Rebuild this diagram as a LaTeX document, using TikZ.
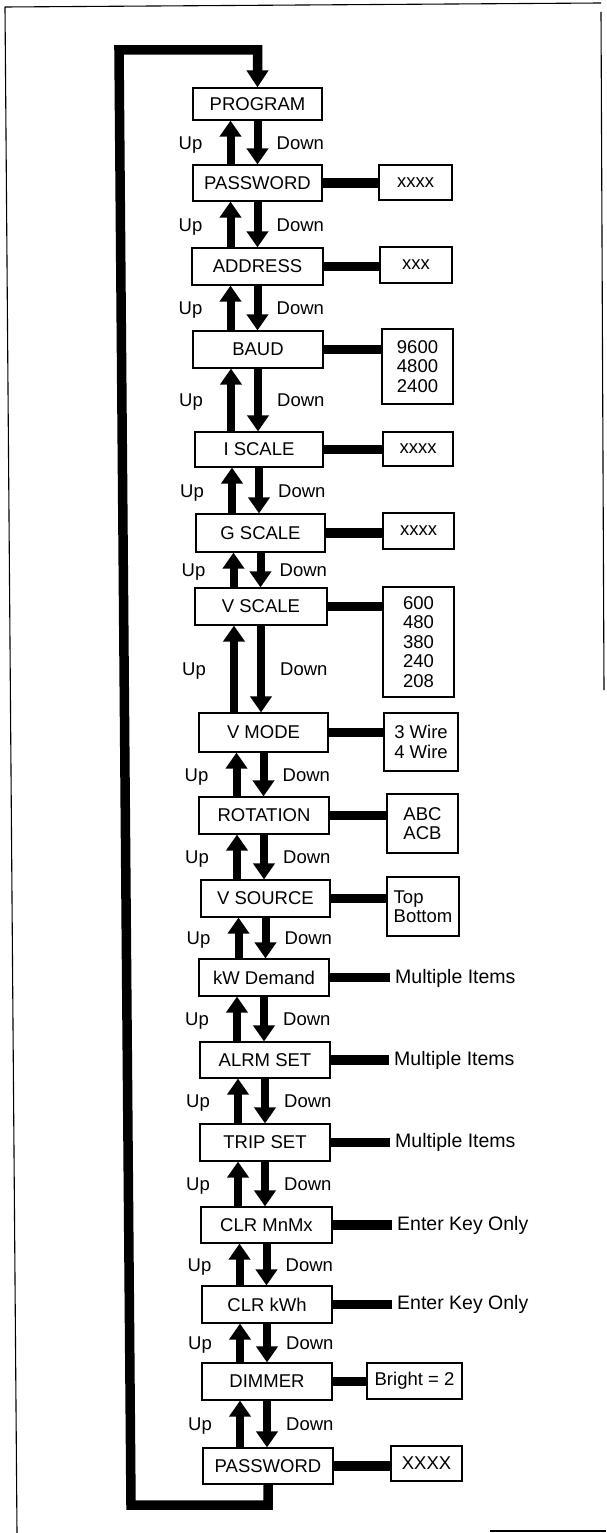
\documentclass[tikz,border=0pt]{standalone}
\usepackage{fontspec}
\setmainfont{Liberation Sans}
\usetikzlibrary{arrows.meta,calc}
\newcommand\updn[2]{%
  \draw[arr] ([xshift=-27pt]#1.south |- #2.north) -- ([xshift=-27pt]#1.south);
  \draw[arr] (#1.south) -- (#1.south |- #2.north);
  \node[lbl, anchor=base east, xshift=-55pt, yshift=-6.6pt] (#1up) at ($(#1.south)!0.5!(#1.south |- #2.north)$) {Up};
  \node[lbl, anchor=base west, xshift=19pt, yshift=-6.6pt] (#1dn) at ($(#1.south)!0.5!(#1.south |- #2.north)$) {Down};
}
\begin{document}
\begin{tikzpicture}[x=1pt,y=-1pt,
  txt/.style={font=\fontsize{18.5}{19.5}\selectfont},
  box/.style={txt, draw, line width=1.2pt, inner sep=0pt, align=center},
  opt/.style={box},
  lbl/.style={txt, inner sep=0pt},
  side/.style={font=\fontsize{19.5}{20}\selectfont, inner sep=5pt, anchor=west},
  arr/.style={line width=8pt, -{Triangle[width=21pt,length=16pt]}},
  conn/.style={line width=9.5pt},
  loopline/.style={line width=9.5pt, line join=miter, -{Triangle[width=21pt,length=17pt]}},
  frame/.style={line width=1.1pt}
]
\useasboundingbox (0,0) rectangle (606,1533);
% scan frame
\draw[frame] (5,7) -- (601,3);
\draw[frame] (5,7) -- (17,1533);
\draw[frame] (601,12) -- (604,690);
\draw[frame] (490,1531) -- (606,1531);

% main boxes
\node[box, minimum width=129pt, minimum height=32pt] (prog) at (257.5,104) {PROGRAM};
\node[box, minimum width=129pt, minimum height=36pt] (pwa) at (257.5,183) {PASSWORD};
\node[box, minimum width=131pt, minimum height=37pt] (addr) at (257.5,266.5) {ADDRESS};
\node[box, minimum width=130pt, minimum height=37pt] (baud) at (258,349.5) {BAUD};
\node[box, minimum width=128pt, minimum height=35pt] (isc) at (259,449.5) {I SCALE};
\node[box, minimum width=129pt, minimum height=38pt] (gsc) at (260.5,533) {G SCALE};
\node[box, minimum width=132pt, minimum height=37pt] (vsc) at (261,606.5) {V SCALE};
\node[box, minimum width=129pt, minimum height=39pt] (vmode) at (263.5,732.5) {V MODE};
\node[box, minimum width=130pt, minimum height=37pt] (rot) at (264,815.5) {ROTATION};
\node[box, minimum width=129pt, minimum height=37pt] (vsrc) at (265.5,898.5) {V SOURCE};
\node[box, minimum width=130pt, minimum height=37pt] (kwd) at (264,977.5) {kW Demand};
\node[box, minimum width=130pt, minimum height=36pt] (alrm) at (265,1060) {ALRM SET};
\node[box, minimum width=130pt, minimum height=37pt] (trip) at (265,1142.5) {TRIP SET};
\node[box, minimum width=131pt, minimum height=36pt] (clrm) at (266.5,1225) {CLR MnMx};
\node[box, minimum width=130pt, minimum height=37pt] (clrk) at (267,1304.5) {CLR kWh};
\node[box, minimum width=130pt, minimum height=37pt] (dim) at (267,1381.5) {DIMMER};
\node[box, minimum width=130pt, minimum height=36pt] (pwb) at (268,1466) {PASSWORD};

% option boxes
\node[opt, minimum width=73pt, minimum height=35pt] (pwao) at (415.5,182.5) {xxxx};
\node[opt, minimum width=72pt, minimum height=36pt] (addro) at (416,265) {xxx};
\node[opt, minimum width=71pt, minimum height=75pt] (baudo) at (417.5,366.5) {9600\\4800\\2400};
\node[opt, minimum width=70pt, minimum height=34pt] (isco) at (418,449) {xxxx};
\node[opt, minimum width=71pt, minimum height=36pt] (gsco) at (418.5,531) {xxxx};
\node[opt, minimum width=71pt, minimum height=110pt] (vsco) at (418.5,642) {600\\480\\380\\240\\208};
\node[opt, minimum width=74pt, minimum height=58pt] (vmodeo) at (421,742) {3 Wire\\4 Wire};
\node[opt, minimum width=71pt, minimum height=59pt] (roto) at (422.5,823.5) {ABC\\ACB};
\node[opt, minimum width=72pt, minimum height=59pt, align=left] (vsrco) at (423,906.5) {Top\\Bottom};
\node[opt, minimum width=95pt, minimum height=36pt] (dimo) at (414.5,1381) {Bright = 2};
\node[opt, minimum width=71pt, minimum height=35pt] (pwbo) at (426.5,1463.5) {XXXX};

% side texts
\node[side] (kwdo) at (390,978) {Multiple Items};
\node[side] (alrmo) at (389,1060) {Multiple Items};
\node[side] (tripo) at (390,1142.5) {Multiple Items};
\node[side] (clrmo) at (392,1225) {Enter Key Only};
\node[side] (clrko) at (392,1304) {Enter Key Only};

% side connectors
\foreach \a in {pwa,addr,baud,isc,gsc,vsc,vmode,rot,vsrc,kwd,alrm,trip,clrm,clrk,dim,pwb}
  \draw[conn] (\a.east) -- (\a.east -| \a o.west);

% up / down arrows
\updn{prog}{pwa}
\updn{pwa}{addr}
\updn{addr}{baud}
\updn{baud}{isc}
\updn{isc}{gsc}
\updn{gsc}{vsc}
\updn{vsc}{vmode}
\updn{vmode}{rot}
\updn{rot}{vsrc}
\updn{vsrc}{kwd}
\updn{kwd}{alrm}
\updn{alrm}{trip}
\updn{trip}{clrm}
\updn{clrm}{clrk}
\updn{clrk}{dim}
\updn{dim}{pwb}

% return loop
\coordinate (lb) at (131,1505);
\coordinate (lt) at (119,50);
\draw[loopline] (pwb.south) |- (lb) -- (lt) -| (prog.north);
\end{tikzpicture}
\end{document}
